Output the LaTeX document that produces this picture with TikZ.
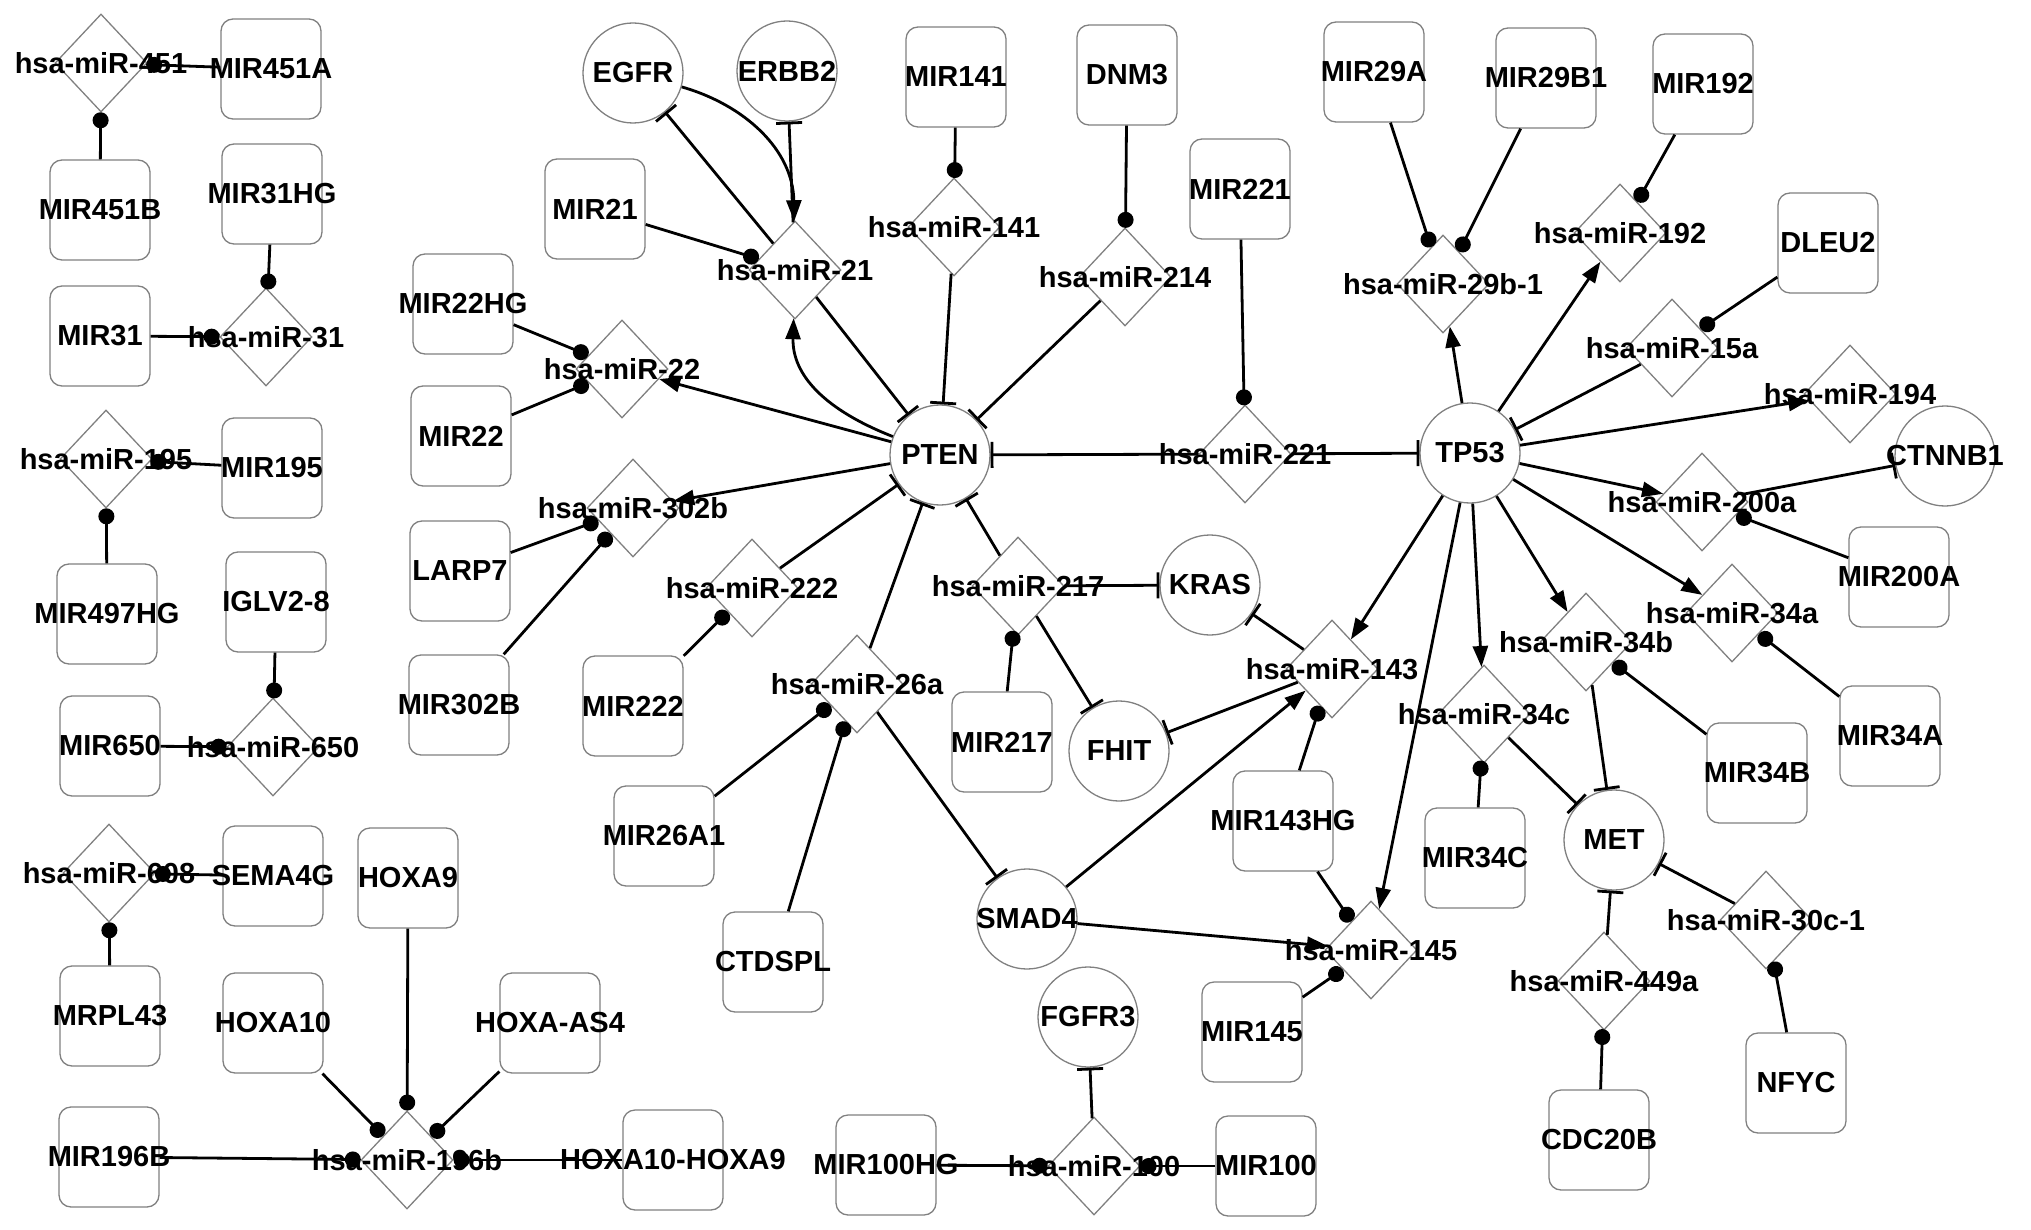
\documentclass[tikz,border=0pt]{standalone}
\usepackage{fontspec}
\setmainfont{Liberation Sans}
\usetikzlibrary{shapes.geometric,arrows.meta}
\definecolor{nodegray}{RGB}{128,128,128}
\newcommand{\zl}[1]{\makebox[0pt]{#1}}
\begin{document}
\begin{tikzpicture}[x=1pt,y=-1pt,
  every node/.style={font=\bfseries\fontsize{29}{31}\selectfont, text=black},
  gbox/.style={draw=nodegray, line width=1.3pt, rounded corners=12pt, rectangle, minimum width=100pt, minimum height=100pt, inner sep=0pt},
  mir/.style={draw=nodegray, line width=1.3pt, diamond, minimum width=92pt, minimum height=98pt, inner sep=0pt},
  prot/.style={draw=nodegray, line width=1.3pt, circle, minimum size=100pt, inner sep=0pt},
  edge/.style={line width=2.8pt, black},
  act/.style={edge, -{Triangle[length=21pt,width=15pt]}},
  inh/.style={edge, -{Bar[width=26pt]}},
  bind/.style={edge, -{Circle[length=16pt]}}]
\useasboundingbox (0,0) rectangle (2031,1230);

% ---- boxes (genes)
\node[gbox] (MIR451A) at (271,69) {\zl{MIR451A}};
\node[gbox] (MIR451B) at (100,210) {\zl{MIR451B}};
\node[gbox] (MIR31HG) at (272,194) {\zl{MIR31HG}};
\node[gbox] (MIR31) at (100,336) {\zl{MIR31}};
\node[gbox] (MIR195) at (272,468) {\zl{MIR195}};
\node[gbox] (MIR497HG) at (107,614) {\zl{MIR497HG}};
\node[gbox] (IGLV) at (276,602) {\zl{IGLV2-8}};
\node[gbox] (MIR650) at (110,746) {\zl{MIR650}};
\node[gbox] (SEMA4G) at (273,876) {\zl{SEMA4G}};
\node[gbox] (HOXA9) at (408,878) {\zl{HOXA9}};
\node[gbox] (MRPL43) at (110,1016) {\zl{MRPL43}};
\node[gbox] (HOXA10) at (273,1023) {\zl{HOXA10}};
\node[gbox] (HOXAAS4) at (550,1023) {\zl{HOXA-AS4}};
\node[gbox] (MIR196B) at (109,1157) {\zl{MIR196B}};
\node[gbox] (HOXA10HOXA9) at (673,1160) {\zl{HOXA10-HOXA9}};
\node[gbox] (MIR22HG) at (463,304) {\zl{MIR22HG}};
\node[gbox] (MIR22) at (461,436) {\zl{MIR22}};
\node[gbox] (LARP7) at (460,571) {\zl{LARP7}};
\node[gbox] (MIR302B) at (459,705) {\zl{MIR302B}};
\node[gbox] (MIR21) at (595,209) {\zl{MIR21}};
\node[gbox] (MIR141) at (956,77) {\zl{MIR141}};
\node[gbox] (DNM3) at (1127,75) {\zl{DNM3}};
\node[gbox] (MIR221) at (1240,189) {\zl{MIR221}};
\node[gbox] (MIR222) at (633,706) {\zl{MIR222}};
\node[gbox] (MIR26A1) at (664,836) {\zl{MIR26A1}};
\node[gbox] (CTDSPL) at (773,962) {\zl{CTDSPL}};
\node[gbox] (MIR217) at (1002,742) {\zl{MIR217}};
\node[gbox] (MIR143HG) at (1283,821) {\zl{MIR143HG}};
\node[gbox] (MIR145) at (1252,1032) {\zl{MIR145}};
\node[gbox] (MIR100HG) at (886,1165) {\zl{MIR100HG}};
\node[gbox] (MIR100) at (1266,1166) {\zl{MIR100}};
\node[gbox] (MIR29A) at (1374,72) {\zl{MIR29A}};
\node[gbox] (MIR29B1) at (1546,78) {\zl{MIR29B1}};
\node[gbox] (MIR192) at (1703,84) {\zl{MIR192}};
\node[gbox] (DLEU2) at (1828,243) {\zl{DLEU2}};
\node[gbox] (MIR200A) at (1899,577) {\zl{MIR200A}};
\node[gbox] (MIR34A) at (1890,736) {\zl{MIR34A}};
\node[gbox] (MIR34B) at (1757,773) {\zl{MIR34B}};
\node[gbox] (MIR34C) at (1475,858) {\zl{MIR34C}};
\node[gbox] (CDC20B) at (1599,1140) {\zl{CDC20B}};
\node[gbox] (NFYC) at (1796,1083) {\zl{NFYC}};

% ---- diamonds (miRNAs)
\node[mir] (m451) at (101,63) {\zl{hsa-miR-451}};
\node[mir] (m31) at (266,337) {\zl{hsa-miR-31}};
\node[mir] (m195) at (106,459) {\zl{hsa-miR-195}};
\node[mir] (m650) at (273,747) {\zl{hsa-miR-650}};
\node[mir] (m608) at (109,873) {\zl{hsa-miR-608}};
\node[mir] (m196b) at (407,1160) {\zl{hsa-miR-196b}};
\node[mir] (m21) at (795,270) {\zl{hsa-miR-21}};
\node[mir] (m141) at (954,227) {\zl{hsa-miR-141}};
\node[mir] (m214) at (1125,277) {\zl{hsa-miR-214}};
\node[mir] (m22) at (622,369) {\zl{hsa-miR-22}};
\node[mir] (m302b) at (633,508) {\zl{hsa-miR-302b}};
\node[mir] (m222) at (752,588) {\zl{hsa-miR-222}};
\node[mir] (m26a) at (857,684) {\zl{hsa-miR-26a}};
\node[mir] (m217) at (1018,586) {\zl{hsa-miR-217}};
\node[mir] (m221) at (1245,454) {\zl{hsa-miR-221}};
\node[mir] (m143) at (1332,669) {\zl{hsa-miR-143}};
\node[mir] (m145) at (1371,950) {\zl{hsa-miR-145}};
\node[mir] (m100) at (1094,1166) {\zl{hsa-miR-100}};
\node[mir] (m29b1) at (1443,284) {\zl{hsa-miR-29b-1}};
\node[mir] (m192) at (1620,233) {\zl{hsa-miR-192}};
\node[mir] (m15a) at (1672,348) {\zl{hsa-miR-15a}};
\node[mir] (m194) at (1850,394) {\zl{hsa-miR-194}};
\node[mir] (m200a) at (1702,502) {\zl{hsa-miR-200a}};
\node[mir] (m34a) at (1732,613) {\zl{hsa-miR-34a}};
\node[mir] (m34b) at (1586,642) {\zl{hsa-miR-34b}};
\node[mir] (m34c) at (1484,714) {\zl{hsa-miR-34c}};
\node[mir] (m449a) at (1604,981) {\zl{hsa-miR-449a}};
\node[mir] (m30c1) at (1766,920) {\zl{hsa-miR-30c-1}};

% ---- circles (proteins)
\node[prot] (EGFR) at (633,73) {\zl{EGFR}};
\node[prot] (ERBB2) at (787,71) {\zl{ERBB2}};
\node[prot] (PTEN) at (940,455) {\zl{PTEN}};
\node[prot] (TP53) at (1470,453) {\zl{TP53}};
\node[prot] (KRAS) at (1210,585) {\zl{KRAS}};
\node[prot] (FHIT) at (1119,751) {\zl{FHIT}};
\node[prot] (SMAD4) at (1027,919) {\zl{SMAD4}};
\node[prot] (FGFR3) at (1088,1017) {\zl{FGFR3}};
\node[prot] (CTNNB1) at (1945,456) {\zl{CTNNB1}};
\node[prot] (MET) at (1614,840) {\zl{MET}};

% ---- binding edges (host gene -> miRNA)
\draw[bind] (MIR451A) -- (m451);
\draw[bind] (MIR451B) -- (m451);
\draw[bind] (MIR31HG) -- (m31);
\draw[bind] (MIR31) -- (m31);
\draw[bind] (MIR195) -- (m195);
\draw[bind] (MIR497HG) -- (m195);
\draw[bind] (IGLV) -- (m650);
\draw[bind] (MIR650) -- (m650);
\draw[bind] (SEMA4G) -- (m608);
\draw[bind] (MRPL43) -- (m608);
\draw[bind] (HOXA10) -- (m196b);
\draw[bind] (HOXA9) -- (m196b);
\draw[bind] (HOXAAS4) -- (m196b);
\draw[bind] (MIR196B) -- (m196b);
\draw[bind] (HOXA10HOXA9) -- (m196b);
\draw[bind] (MIR22HG) -- (m22);
\draw[bind] (MIR22) -- (m22);
\draw[bind] (LARP7) -- (m302b);
\draw[bind] (MIR302B) -- (m302b);
\draw[bind] (MIR21) -- (m21);
\draw[bind] (MIR141) -- (m141);
\draw[bind] (DNM3) -- (m214);
\draw[bind] (MIR221) -- (m221);
\draw[bind] (MIR222) -- (m222);
\draw[bind] (MIR26A1) -- (m26a);
\draw[bind] (CTDSPL) -- (m26a);
\draw[bind] (MIR217) -- (m217);
\draw[bind] (MIR143HG) -- (m143);
\draw[bind] (MIR143HG) -- (m145);
\draw[bind] (MIR145) -- (m145);
\draw[bind] (MIR100HG) -- (m100);
\draw[bind] (MIR100) -- (m100);
\draw[bind] (MIR29A) -- (m29b1);
\draw[bind] (MIR29B1) -- (m29b1);
\draw[bind] (MIR192) -- (m192);
\draw[bind] (DLEU2) -- (m15a);
\draw[bind] (MIR200A) -- (m200a);
\draw[bind] (MIR34A) -- (m34a);
\draw[bind] (MIR34B) -- (m34b);
\draw[bind] (MIR34C) -- (m34c);
\draw[bind] (CDC20B) -- (m449a);
\draw[bind] (NFYC) -- (m30c1);

% ---- activation edges
\draw[act] (EGFR) .. controls (745,105) and (793,150) .. (m21);
\draw[act] (PTEN) .. controls (825,410) and (792,375) .. (m21);
\draw[act] (PTEN) -- (m22);
\draw[act] (PTEN) -- (m302b);
\draw[act] (TP53) -- (m29b1);
\draw[act] (TP53) -- (m192);
\draw[act] (TP53) -- (m194);
\draw[act] (TP53) -- (m200a);
\draw[act] (TP53) -- (m34a);
\draw[act] (TP53) -- (m34b);
\draw[act] (TP53) -- (m34c);
\draw[act] (TP53) -- (m143);
\draw[act] (TP53) -- (m145);
\draw[act] (SMAD4) -- (m143);
\draw[act] (SMAD4) -- (m145);

% ---- inhibition edges
\draw[inh] (m21) -- (EGFR);
\draw[inh] (m21) -- (ERBB2);
\draw[inh] (m21) -- (PTEN);
\draw[inh] (m141) -- (PTEN);
\draw[inh] (m214) -- (PTEN);
\draw[inh] (m221) -- (PTEN);
\draw[inh] (m221) -- (TP53);
\draw[inh] (m222) -- (PTEN);
\draw[inh] (m26a) -- (PTEN);
\draw[inh] (m26a) -- (SMAD4);
\draw[inh] (m217) -- (PTEN);
\draw[inh] (m217) -- (KRAS);
\draw[inh] (m217) -- (FHIT);
\draw[inh] (m143) -- (KRAS);
\draw[inh] (m143) -- (FHIT);
\draw[inh] (m15a) -- (TP53);
\draw[inh] (m200a) -- (CTNNB1);
\draw[inh] (m34b) -- (MET);
\draw[inh] (m34c) -- (MET);
\draw[inh] (m449a) -- (MET);
\draw[inh] (m30c1) -- (MET);
\draw[inh] (m100) -- (FGFR3);
\end{tikzpicture}
\end{document}
